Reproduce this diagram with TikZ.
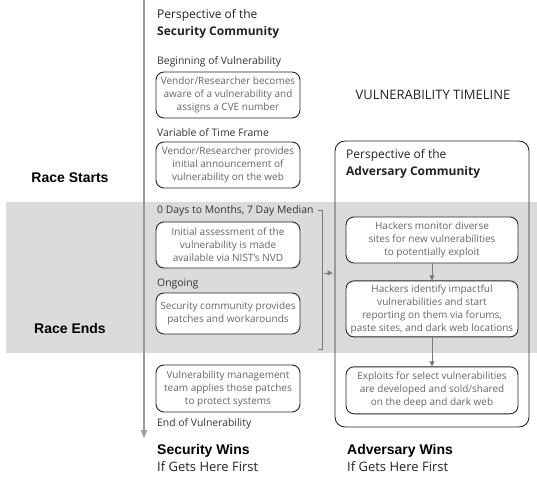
\documentclass[tikz,border=0pt]{standalone}
\usepackage{fontspec}
\setmainfont{Open Sans}
\newfontfamily\arialfont{Liberation Sans}
\usetikzlibrary{positioning,arrows.meta}
\definecolor{bandgray}{HTML}{DBDBDB}
\definecolor{linegray}{HTML}{9C9C9C}
\definecolor{arrowgray}{HTML}{7A7A7A}
\definecolor{boxtext}{HTML}{666666}
\definecolor{labeltext}{HTML}{333333}
\definecolor{titletext}{HTML}{222222}

\begin{document}
\begin{tikzpicture}[
    x=1pt, y=-1pt,
    >={Triangle[length=5pt,width=5pt]},
    secnode/.style={draw=black!85, fill=white, rounded corners=8pt, line width=0.9pt, align=center, inner sep=2pt, minimum width=144pt, minimum height=46pt, font=\fontsize{10}{13}\selectfont, text=boxtext},
    advnode/.style={secnode, minimum width=172pt},
    steplabel/.style={anchor=west, inner sep=0pt, font=\fontsize{10.4}{12}\selectfont, text=labeltext},
    titlelabel/.style={anchor=west, align=left, inner sep=0pt, font=\fontsize{12}{17}\selectfont, text=titletext},
    racelabel/.style={font=\arialfont\bfseries\fontsize{14}{16}\selectfont, text=black},
    winlabel/.style={anchor=base west, inner sep=0pt, font=\arialfont\bfseries\fontsize{14}{16}\selectfont, text=black},
    firstlabel/.style={anchor=base west, inner sep=0pt, font=\fontsize{13}{16}\selectfont, text=titletext}
]
    \useasboundingbox (0,0) rectangle (537,481);

    % --- RACE BAND ---
    \fill[bandgray] (6,202) rectangle (537,353);
    \node[racelabel] (rstart) at (70,178) {Race Starts};
    \node[racelabel] (rend) at (70,328) {Race Ends};

    % --- TIMELINE ---
    \coordinate (ttop) at (144,0);
    \coordinate (tend) at (144,438);
    \draw[linegray, line width=1.2pt, -{Triangle[length=8pt,width=6pt]}] (ttop) -- (tend);

    % --- SECURITY COMMUNITY ---
    \node[titlelabel] (sectitle) at (157,24) {Perspective of the\\\textbf{Security Community}};
    \node[steplabel] (l1) at (157,62) {Beginning of Vulnerability};
    \node[secnode] (s1) at (228,95) {Vendor/Researcher becomes\\aware of a vulnerability and\\assigns a CVE number};
    \node[steplabel] (l2) at (157,133) {Variable of Time Frame};
    \node[secnode] (s2) at (228,165) {Vendor/Researcher provides\\initial announcement of\\vulnerability on the web};
    \node[steplabel] (l3) at (157,211) {0 Days to Months, 7 Day Median};
    \node[secnode] (s3) at (228,245) {Initial assessment of the\\vulnerability is made\\available via NIST's NVD};
    \node[steplabel] (l4) at (157,284) {Ongoing};
    \node[secnode, minimum height=41pt] (s4) at (228,313.5) {Security community provides\\patches and workarounds};
    \node[secnode, minimum height=47pt] (s5) at (228,388.5) {Vulnerability management\\team applies those patches\\to protect systems};
    \node[steplabel] (l5) at (157,424) {End of Vulnerability};

    % --- ADVERSARY COMMUNITY ---
    \node[font=\fontsize{13}{16}\selectfont, text=titletext] (timeline) at (433,95) {VULNERABILITY TIMELINE};
    \node[draw=black!85, line width=0.9pt, rounded corners=10pt, minimum width=194pt, minimum height=286pt] (advframe) at (432,284) {};
    \node[titlelabel] (advtitle) at (346,164) {Perspective of the\\\textbf{Adversary Community}};
    \node[advnode] (a1) at (432,240) {Hackers monitor diverse\\sites for new vulnerabilities\\to potentially exploit};
    \node[advnode, minimum height=56pt, below=17pt of a1] (a2) {Hackers identify impactful\\vulnerabilities and start\\reporting on them via forums,\\paste sites, and dark web locations};
    \node[advnode, minimum height=47pt, below=29pt of a2] (a3) {Exploits for select vulnerabilities\\are developed and sold/shared\\on the deep and dark web};

    \draw[->, arrowgray, line width=0.8pt] (a1) -- (a2);
    \draw[->, arrowgray, line width=0.8pt] (a2) -- (a3);

    % Bracket joining the race window to the adversary side
    \coordinate (brtop) at (322,210);
    \coordinate (brbot) at (322,349);
    \coordinate (brmid) at (324,273);
    \draw[arrowgray, line width=0.8pt] ([xshift=-4pt]brtop) -- (brtop) -- (brbot) -- ([xshift=-4pt]brbot);
    \draw[->, arrowgray, line width=0.8pt, shorten >=2pt] (brmid) -- (brmid -| advframe.west);

    % --- OUTCOMES ---
    \node[winlabel] (secwin) at (157,454) {Security Wins};
    \node[firstlabel] (secfirst) at (157,471) {If Gets Here First};
    \node[winlabel] (advwin) at (347,454) {Adversary Wins};
    \node[firstlabel] (advfirst) at (347,471) {If Gets Here First};
\end{tikzpicture}
\end{document}
